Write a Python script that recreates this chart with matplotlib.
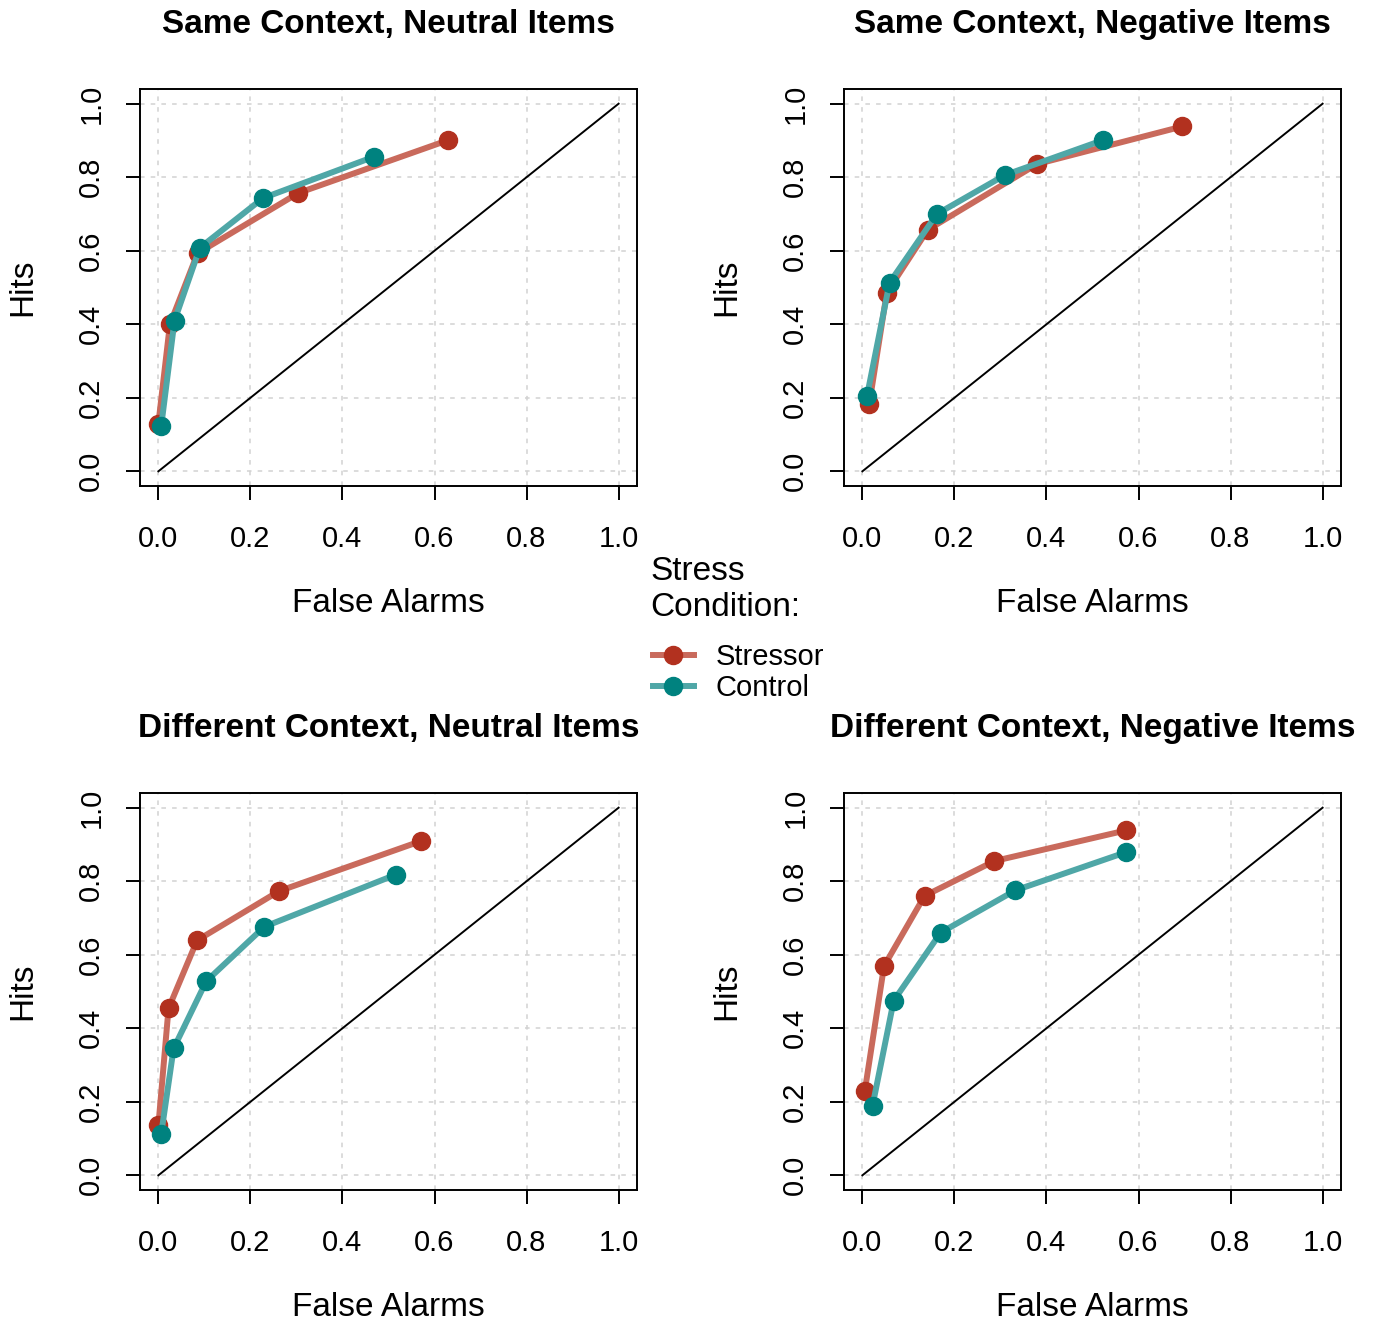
import matplotlib
matplotlib.use("Agg")
import matplotlib.pyplot as plt

plt.rcParams['font.family'] = ['Liberation Sans', 'DejaVu Sans']

# panel titles
titles = ["Same Context, Neutral Items", "Same Context, Negative Items",
          "Different Context, Neutral Items", "Different Context, Negative Items"]

# false alarm / hit rates per panel (stressor group)
stress_fa = [[0.00, 0.025, 0.085, 0.304, 0.630],
             [0.015, 0.053, 0.142, 0.380, 0.695],
             [0.00, 0.022, 0.084, 0.262, 0.570],
             [0.005, 0.047, 0.135, 0.287, 0.572]]
stress_hit = [[0.130, 0.400, 0.593, 0.757, 0.901],
              [0.184, 0.486, 0.657, 0.836, 0.938],
              [0.136, 0.454, 0.639, 0.773, 0.909],
              [0.228, 0.569, 0.760, 0.855, 0.938]]

# control group
control_fa = [[0.006, 0.035, 0.090, 0.227, 0.469],
              [0.010, 0.059, 0.162, 0.310, 0.523],
              [0.006, 0.033, 0.104, 0.230, 0.516],
              [0.022, 0.068, 0.170, 0.332, 0.573]]
control_hit = [[0.122, 0.410, 0.608, 0.743, 0.856],
               [0.205, 0.513, 0.700, 0.806, 0.901],
               [0.112, 0.345, 0.528, 0.676, 0.818],
               [0.189, 0.475, 0.660, 0.775, 0.879]]

ticks = [0.0, 0.2, 0.4, 0.6, 0.8, 1.0]
tick_labels = ["0.0", "0.2", "0.4", "0.6", "0.8", "1.0"]

red_pt = "#B2311F"
red_ln = "#C96A5C"
teal_pt = "#00827F"
teal_ln = "#4FA7A7"

W, H = 1373, 1324
fig = plt.figure(figsize=(W / 100, H / 100), dpi=100)

# axes boxes in pixels: left, top
boxes = [(140, 89), (844, 89), (140, 793), (844, 793)]
bw, bh = 497, 397

handles = None
for i in range(4):
    l, t = boxes[i]
    ax = fig.add_axes([l / W, 1 - (t + bh) / H, bw / W, bh / H])
    ax.set_xlim(-0.04, 1.04)
    ax.set_ylim(-0.04, 1.04)
    ax.grid(True, color="#d2d2d2", linestyle=(0, (3, 4)), linewidth=1.1)
    ax.set_axisbelow(True)
    ax.plot([0, 1], [0, 1], color="black", linewidth=1.4, zorder=2)
    l1, = ax.plot(stress_fa[i], stress_hit[i], color=red_ln, linewidth=4.3, zorder=3)
    m1, = ax.plot(stress_fa[i], stress_hit[i], 'o', color=red_pt, markersize=13, zorder=4)
    l2, = ax.plot(control_fa[i], control_hit[i], color=teal_ln, linewidth=4.3, zorder=5)
    m2, = ax.plot(control_fa[i], control_hit[i], 'o', color=teal_pt, markersize=13, zorder=6)
    if handles is None:
        handles = [(l1, m1), (l2, m2)]
    ax.set_xticks(ticks)
    ax.set_xticklabels(tick_labels)
    ax.set_yticks(ticks)
    ax.set_yticklabels(tick_labels, rotation=90, va="center")
    ax.tick_params(direction="out", length=10, width=1.4, labelsize=21, pad=18)
    ax.tick_params(axis="y", pad=15)
    for s in ax.spines.values():
        s.set_linewidth(1.4)
    ax.set_xlabel("False Alarms", fontsize=24, labelpad=25)
    ax.set_ylabel("Hits", fontsize=24, labelpad=28)
    ax.set_title(titles[i], fontsize=24, fontweight="bold", pad=40)

fig.text(650 / W, 1 - 556 / H, "Stress\nCondition:", fontsize=24,
         ha="left", va="top", linespacing=1.2)
fig.legend(handles, ["Stressor", "Control"], loc="upper left",
           bbox_to_anchor=(653 / W, 1 - 643 / H), frameon=False,
           fontsize=21, borderpad=0, borderaxespad=0,
           handlelength=1.4, handletextpad=0.75, labelspacing=0.12)

fig.savefig("out.png", dpi=100)
